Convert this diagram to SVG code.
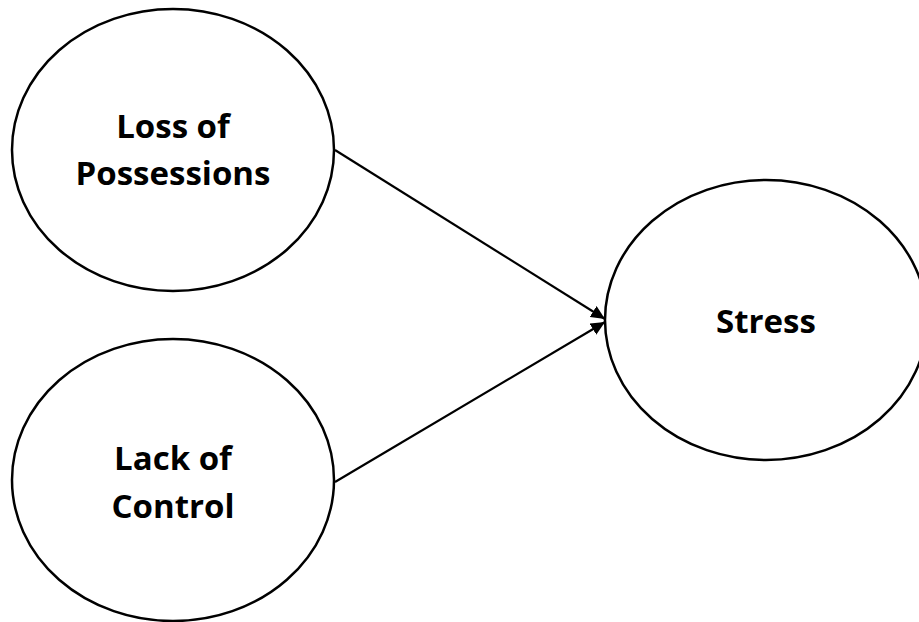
<svg xmlns="http://www.w3.org/2000/svg" width="919" height="622" viewBox="0 0 919 622">
<style>
.node ellipse{fill:#fff;stroke:#000;stroke-width:2.5}
.node text{font-family:"Open Sans","Noto Sans","Liberation Sans",sans-serif;font-weight:bold;font-size:33px;fill:#000;text-anchor:middle}
.edge{stroke:#000;stroke-width:2.2;fill:none;marker-end:url(#arr)}
</style>
<defs>
<marker id="arr" viewBox="0 0 14 13" refX="14" refY="6.5" markerWidth="14" markerHeight="13" markerUnits="userSpaceOnUse" orient="auto">
<path d="M0,0 L14,6.5 L0,13 z" fill="#000"/>
</marker>
</defs>
<rect width="919" height="622" fill="#fff"/>
<g id="connectors">
<line class="edge" x1="335" y1="150" x2="605" y2="319"/>
<line class="edge" x1="335" y1="482" x2="605" y2="322"/>
</g>
<g id="loss" class="node">
<ellipse cx="173" cy="150" rx="161" ry="141"/>
<text x="173" y="138">Loss of</text>
<text x="173" y="185">Possessions</text>
</g>
<g id="lack" class="node">
<ellipse cx="173" cy="480" rx="161" ry="141"/>
<text x="173" y="470">Lack of</text>
<text x="173" y="518">Control</text>
</g>
<g id="stress" class="node">
<ellipse cx="766" cy="320" rx="161" ry="140"/>
<text x="766" y="333">Stress</text>
</g>
</svg>
